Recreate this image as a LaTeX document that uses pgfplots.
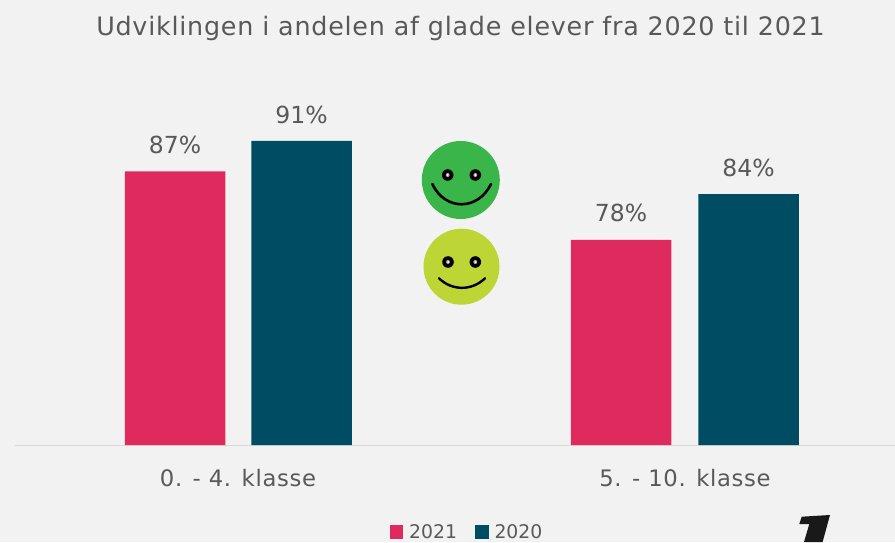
\documentclass[border=0pt]{standalone}
\usepackage{pgfplots}
\pgfplotsset{compat=1.18}
\usepackage{fontspec}
\setmainfont{DejaVu Sans}
\newfontfamily\spaced[LetterSpace=3]{DejaVu Sans}
\definecolor{bg}{HTML}{F2F2F2}
\definecolor{txt}{HTML}{595959}
\definecolor{pinkbar}{HTML}{DF2A5E}
\definecolor{tealbar}{HTML}{004D63}
\definecolor{smgreen}{HTML}{3AB54A}
\definecolor{smlime}{HTML}{BDD635}
\begin{document}
\begin{tikzpicture}[x=1pt,y=1pt]
\useasboundingbox (0,0) rectangle (895,542);
\fill[bg] (0,0) rectangle (895,542);
\begin{axis}[
  at={(15pt,97pt)}, anchor=south west,
  scale only axis, width=880pt, height=445pt,
  xmin=15, xmax=895, ymin=51, ymax=109.55,
  axis x line=bottom, axis y line=none,
  x axis line style={draw=black!15,line width=1pt,-},
  xtick={238,685},
  xticklabels={0. - 4. klasse,5. - 10. klasse},
  major tick length=0pt,
  xticklabel style={font=\spaced\fontsize{22.7}{26}\selectfont,text=txt,yshift=-21pt},
  title={\spaced\fontsize{25.4}{30}\selectfont Udviklingen i andelen af glade elever fra 2020 til 2021},
  title style={at={(axis cs:460.5,105)},anchor=center,text=txt},
  /pgf/number format/assume math mode=true,
  nodes near coords={\pgfmathprintnumber{\pgfplotspointmeta}\%},
  nodes near coords style={font=\fontsize{23.5}{26}\selectfont,text=txt,anchor=south,yshift=14pt},
  legend style={at={(axis cs:467,39.55)},anchor=center,draw=none,fill=none,
    legend columns=2,font=\fontsize{18.8}{22}\selectfont,text=txt,
    /tikz/every even column/.append style={column sep=16pt},
    /tikz/every odd column/.append style={column sep=4pt},inner sep=0pt},
  legend image code/.code={\fill[#1] (0pt,-6.5pt) rectangle (13.5pt,7pt);},
  legend cell align=left,
]
\addplot[ybar,bar width=100.5pt,bar shift=0pt,fill=pinkbar,draw=none] coordinates {(175,87) (621,78)};
\addlegendentry{2021}
\addplot[ybar,bar width=100.5pt,bar shift=0pt,fill=tealbar,draw=none] coordinates {(301.5,91) (748.5,84)};
\addlegendentry{2020}
\end{axis}
% smileys (decoration)
\fill[smgreen] (460.8,362) circle (39);
\foreach \x in {447.7,475.3}{\fill[black] (\x,367) circle (5.8);\fill[black!35] (\x,367) circle (2);\fill[white] (\x,367) circle (1);}
\draw[black,line width=2.6pt,line cap=round] (432.3,358) .. controls (445,331) and (478,331) .. (491,358);
\fill[smlime] (461.5,275.3) circle (38);
\foreach \x in {448,475.3}{\fill[black] (\x,280) circle (5.8);\fill[black!35] (\x,280) circle (2);\fill[white] (\x,280) circle (1);}
\draw[black,line width=2.4pt,line cap=round] (439,263.7) .. controls (452,251) and (472,251) .. (485,263.7);
% logo
\fill[black!90] (801.7,25.3) -- (830,27) -- (822.6,0) -- (804,0) -- (809.3,18) -- (799.3,18) -- cycle;
\end{tikzpicture}
\end{document}
